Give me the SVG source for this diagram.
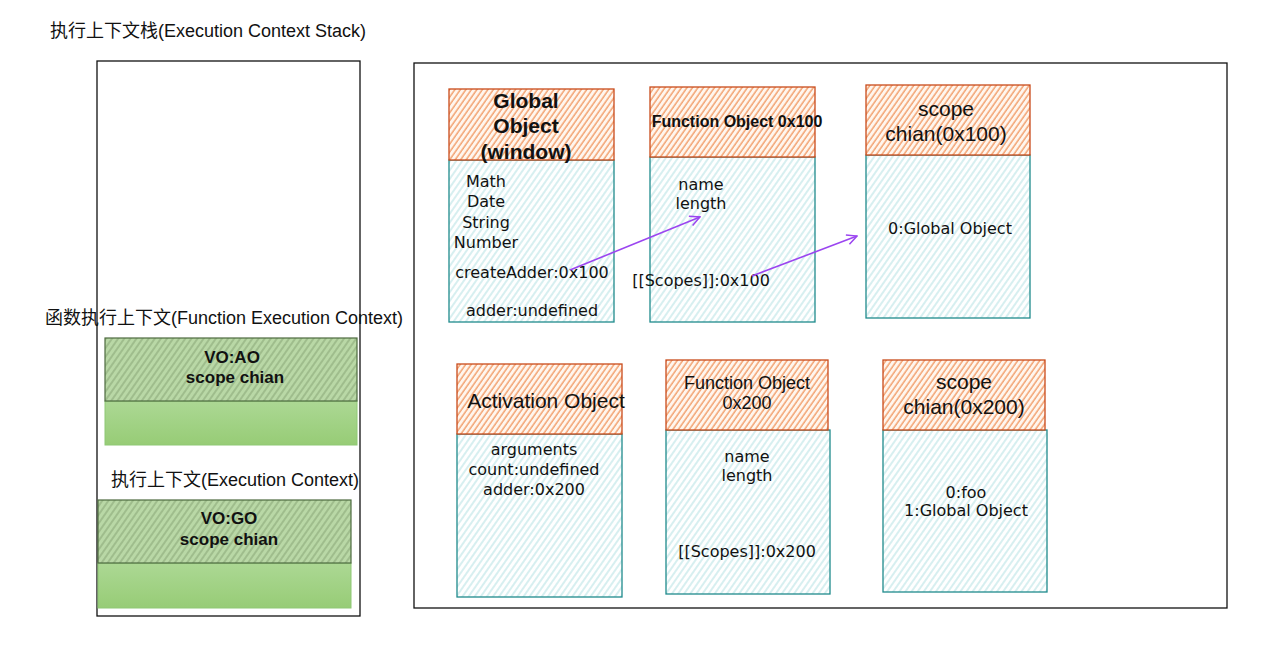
<svg xmlns="http://www.w3.org/2000/svg" width="1280" height="655" viewBox="0 0 1280 655">
<defs>
  <pattern id="hOrange" patternUnits="userSpaceOnUse" width="4.5" height="4.5" patternTransform="rotate(35)">
    <rect width="4.5" height="4.5" fill="#fff6ee"/>
    <line x1="1" y1="0" x2="1" y2="4.5" stroke="#ee8444" stroke-width="1.1"/>
  </pattern>
  <pattern id="hCyan" patternUnits="userSpaceOnUse" width="5" height="5" patternTransform="rotate(35)">
    <rect width="5" height="5" fill="#ffffff"/>
    <line x1="1" y1="0" x2="1" y2="5" stroke="#b0e0e2" stroke-width="1"/>
  </pattern>
  <pattern id="hGreen" patternUnits="userSpaceOnUse" width="5" height="5" patternTransform="rotate(35)">
    <rect width="5" height="5" fill="#b9d8a6"/>
    <line x1="1" y1="0" x2="1" y2="5" stroke="#7e9c6c" stroke-width="0.9"/>
  </pattern>
  <linearGradient id="gGreen" x1="0" y1="0" x2="0" y2="1">
    <stop offset="0" stop-color="#acd894"/>
    <stop offset="1" stop-color="#97cc76"/>
  </linearGradient>
  <marker id="arr" viewBox="0 0 12 12" refX="11" refY="6" markerWidth="12" markerHeight="12" markerUnits="userSpaceOnUse" orient="auto">
    <path d="M1,1 L11,6 L1,11" fill="none" stroke="#9b45f0" stroke-width="1.5"/>
  </marker>
  <style>
    .frame{fill:none;stroke:#111;stroke-width:1.3}
    .hdr{fill:url(#hOrange);stroke:#c94b1b;stroke-width:1.3}
    .body{fill:url(#hCyan);stroke:#1f8b8d;stroke-width:1.3}
    .gtop{fill:url(#hGreen);stroke:#4e6b40;stroke-width:1.2}
    .gbot{fill:url(#gGreen);stroke:#8ec874;stroke-width:1}
    .lbl{font-family:"Liberation Sans","Noto Sans CJK SC",sans-serif;font-size:18px;fill:#111}
    .hd{font-family:"Liberation Sans",sans-serif;font-size:21px;fill:#111;text-anchor:middle}
    .hds{font-family:"Liberation Sans",sans-serif;font-size:18px;fill:#111;text-anchor:middle}
    .hdb{font-family:"Liberation Sans",sans-serif;font-weight:bold;fill:#111;text-anchor:middle}
    .tx{font-family:"DejaVu Sans",sans-serif;font-size:16px;fill:#111;text-anchor:middle}
    .conn{fill:none;stroke:#9b45f0;stroke-width:1.6}
  </style>
</defs>
<rect width="1280" height="655" fill="#ffffff"/>

<g id="stack">
  <text class="lbl" x="50" y="37">执行上下文栈(Execution Context Stack)</text>
  <rect class="frame" x="97" y="61" width="263" height="555"/>
</g>

<g id="heap-frame">
  <rect class="frame" x="414" y="63" width="813" height="545"/>
</g>

<g id="fec">
  <text class="lbl" x="45" y="324">函数执行上下文(Function Execution Context)</text>
  <rect class="gbot" x="105" y="401" width="252" height="44"/>
  <rect class="gtop" x="105" y="338" width="252" height="63"/>
  <text class="hdb" x="232" y="363" font-size="17">VO:AO</text>
  <text class="hdb" x="235" y="383" font-size="17">scope chian</text>
</g>

<g id="gec">
  <text class="lbl" x="111" y="486">执行上下文(Execution Context)</text>
  <rect class="gbot" x="98" y="563" width="253" height="45"/>
  <rect class="gtop" x="98" y="500" width="253" height="63"/>
  <text class="hdb" x="229" y="524" font-size="17">VO:GO</text>
  <text class="hdb" x="229" y="545" font-size="17">scope chian</text>
</g>

<g id="global-object">
  <rect class="body" x="449" y="160" width="165" height="162"/>
  <rect class="hdr" x="449" y="89" width="165" height="71"/>
  <text class="hdb" x="526" y="108" font-size="21">Global</text>
  <text class="hdb" x="526" y="133" font-size="21">Object</text>
  <text class="hdb" x="526" y="159" font-size="21">(window)</text>
  <text class="tx" x="486" y="187">Math</text>
  <text class="tx" x="486" y="207">Date</text>
  <text class="tx" x="486" y="228">String</text>
  <text class="tx" x="486" y="248">Number</text>
  <text class="tx" x="532" y="278">createAdder:0x100</text>
  <text class="tx" x="532" y="316">adder:undefined</text>
</g>

<g id="function-object-100">
  <rect class="body" x="650" y="157" width="165" height="165"/>
  <rect class="hdr" x="650" y="87" width="165" height="70"/>
  <text class="hdb" x="737" y="127" font-size="16">Function Object 0x100</text>
  <text class="tx" x="701" y="190">name</text>
  <text class="tx" x="701" y="209">length</text>
  <text class="tx" x="701" y="286">[[Scopes]]:0x100</text>
</g>

<g id="scope-chain-100">
  <rect class="body" x="866" y="155" width="164" height="163"/>
  <rect class="hdr" x="866" y="85" width="164" height="70"/>
  <text class="hd" x="946" y="116">scope</text>
  <text class="hd" x="946" y="141">chian(0x100)</text>
  <text class="tx" x="950" y="234">0:Global Object</text>
</g>

<g id="activation-object">
  <rect class="body" x="457" y="434" width="165" height="163"/>
  <rect class="hdr" x="457" y="364" width="165" height="70"/>
  <text class="hd" x="546" y="408">Activation Object</text>
  <text class="tx" x="534" y="455">arguments</text>
  <text class="tx" x="534" y="475">count:undefined</text>
  <text class="tx" x="534" y="495">adder:0x200</text>
</g>

<g id="function-object-200">
  <rect class="body" x="666" y="430" width="164" height="164"/>
  <rect class="hdr" x="666" y="360" width="162" height="70"/>
  <text class="hds" x="747" y="389">Function Object</text>
  <text class="hds" x="747" y="409">0x200</text>
  <text class="tx" x="747" y="462">name</text>
  <text class="tx" x="747" y="481">length</text>
  <text class="tx" x="747" y="557">[[Scopes]]:0x200</text>
</g>

<g id="scope-chain-200">
  <rect class="body" x="883" y="430" width="164" height="162"/>
  <rect class="hdr" x="883" y="360" width="162" height="70"/>
  <text class="hd" x="964" y="389">scope</text>
  <text class="hd" x="964" y="414">chian(0x200)</text>
  <text class="tx" x="966" y="498">0:foo</text>
  <text class="tx" x="966" y="516">1:Global Object</text>
</g>

<g id="connectors">
  <path class="conn" d="M570,270 L700,217" marker-end="url(#arr)"/>
  <path class="conn" d="M752,276 L857,236" marker-end="url(#arr)"/>
</g>
</svg>
